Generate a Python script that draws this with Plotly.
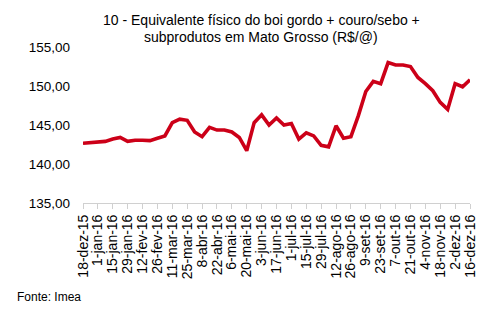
import pandas as pd
import plotly.graph_objects as go

# Weekly price series (R$/@), 18-dez-15 .. 16-dez-16
weeks = pd.date_range("2015-12-18", periods=53, freq="7D")
values = [
    142.65, 142.7, 142.8, 142.9, 143.2, 143.4, 142.9, 143.05, 143.05, 143.0,
    143.3, 143.6, 145.3, 145.75, 145.6, 144.1, 143.5, 144.7, 144.35, 144.35,
    144.1, 143.4, 141.7, 145.3, 146.3, 145.0, 145.9, 145.0, 145.2, 143.2,
    144.0, 143.6, 142.4, 142.2, 144.9, 143.3, 143.5, 146.2, 149.3, 150.6,
    150.3, 153.0, 152.7, 152.7, 152.5, 151.1, 150.3, 149.4, 147.9, 147.0,
    150.3, 149.9, 150.8,
]

# Biweekly axis labels
tick_labels = [
    "18-dez-15", "1-jan-16", "15-jan-16", "29-jan-16", "12-fev-16", "26-fev-16",
    "11-mar-16", "25-mar-16", "8-abr-16", "22-abr-16", "6-mai-16", "20-mai-16",
    "3-jun-16", "17-jun-16", "1-jul-16", "15-jul-16", "29-jul-16", "12-ago-16",
    "26-ago-16", "9-set-16", "23-set-16", "7-out-16", "21-out-16", "4-nov-16",
    "18-nov-16", "2-dez-16", "16-dez-16",
]
tick_dates = list(weeks[::2])

title_lines = [
    "10 - Equivalente físico do boi gordo + couro/sebo +",
    "subprodutos em Mato Grosso (R$/@)",
]

FONT = "Liberation Sans, Arial, sans-serif"


def txt(size):
    return dict(family=FONT, size=size, color="black")


fig = go.Figure()
fig.add_trace(go.Scatter(
    x=weeks, y=values, mode="lines",
    line=dict(color="#cc0018", width=3.6),
    hoverinfo="x+y",
))

annotations = [
    dict(text=title_lines[0], xref="paper", yref="paper", x=0.46, y=1.173,
         xanchor="center", yanchor="middle", showarrow=False, font=txt(14)),
    dict(text=title_lines[1], xref="paper", yref="paper", x=0.46, y=1.066,
         xanchor="center", yanchor="middle", showarrow=False, font=txt(14)),
    dict(text="Fonte: Imea", xref="paper", yref="paper", x=-0.175, y=-0.605,
         xanchor="left", yanchor="middle", showarrow=False, font=txt(12)),
]

fig.update_layout(
    width=500, height=324,
    margin=dict(l=83, r=30, t=47, b=121),
    paper_bgcolor="white", plot_bgcolor="white",
    font=txt(13),
    separators=", ",
    showlegend=False,
    annotations=annotations,
)

fig.update_xaxes(
    range=[weeks[0], weeks[-1]],
    tickmode="array", tickvals=tick_dates, ticktext=tick_labels,
    tickangle=-90, ticks="outside", ticklen=5, tickcolor="#d0d0d0",
    showline=True, linecolor="#d0d0d0", linewidth=1,
    showgrid=False, zeroline=False,
    tickfont=txt(14),
)
fig.update_yaxes(
    range=[135, 155], dtick=5, tickformat=".2f",
    showgrid=False, zeroline=False, showline=False,
    ticks="", ticklabelstandoff=12,
    tickfont=txt(13.5),
)

fig.write_html("out.html")
